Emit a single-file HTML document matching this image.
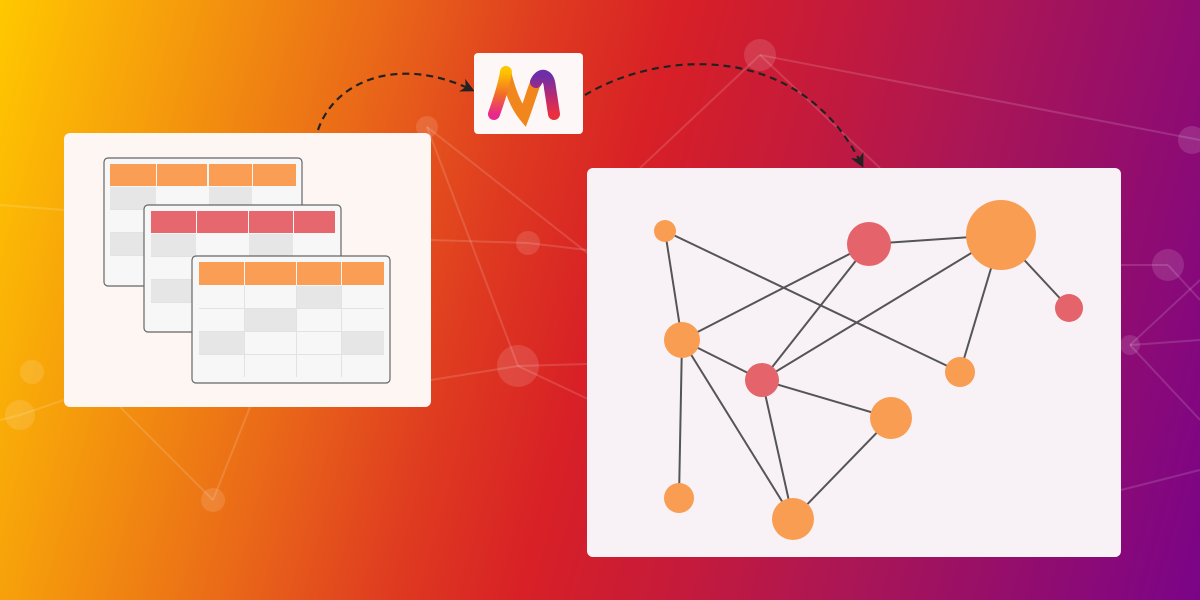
<!DOCTYPE html>
<html><head><meta charset="utf-8"><style>
html,body{margin:0;padding:0;width:1200px;height:600px;overflow:hidden}
body{background:linear-gradient(105deg,#ffc800 0%,#f59a0c 14%,#ea6a18 28%,#df3c20 40%,#d82026 50%,#c41a3c 62%,#aa1656 74%,#900c70 88%,#7a0488 100%)}
</style></head><body>
<svg width="1200" height="600" viewBox="0 0 1200 600" xmlns="http://www.w3.org/2000/svg" style="position:absolute;left:0;top:0">
<defs>
<marker id="ah" markerWidth="14" markerHeight="14" refX="11" refY="7" orient="auto" markerUnits="userSpaceOnUse"><path d="M0,0 L14,7 L0,14 L4,7 Z" fill="#222"/></marker>
<linearGradient id="mg1" x1="0" y1="0" x2="0" y2="1"><stop offset="0" stop-color="#ffc400"/><stop offset="0.55" stop-color="#f26a2a"/><stop offset="1" stop-color="#e8288a"/></linearGradient>
<linearGradient id="mg2" x1="0" y1="0" x2="0" y2="1"><stop offset="0" stop-color="#6e2ea8"/><stop offset="0.6" stop-color="#c22a6a"/><stop offset="1" stop-color="#ea3040"/></linearGradient>
<linearGradient id="mg3" x1="0" y1="0" x2="0" y2="1"><stop offset="0" stop-color="#f8b010"/><stop offset="1" stop-color="#ee7a1c"/></linearGradient>
</defs>
<g stroke="rgba(255,255,255,0.14)" stroke-width="2" fill="none">
<line x1="427" y1="127" x2="518" y2="366"/><line x1="427" y1="127" x2="590" y2="255"/>
<line x1="760" y1="55" x2="1200" y2="140"/><line x1="760" y1="55" x2="640" y2="168"/><line x1="760" y1="55" x2="880" y2="168"/>
<line x1="518" y1="366" x2="431" y2="380"/><line x1="518" y1="366" x2="590" y2="400"/><line x1="518" y1="366" x2="587" y2="364"/>
<line x1="528" y1="243" x2="431" y2="240"/><line x1="528" y1="243" x2="587" y2="250"/>
<line x1="20" y1="415" x2="64" y2="400"/><line x1="20" y1="415" x2="0" y2="420"/>
<line x1="213" y1="500" x2="250" y2="407"/><line x1="213" y1="500" x2="120" y2="407"/>
<line x1="1168" y1="265" x2="1121" y2="265"/><line x1="1168" y1="265" x2="1200" y2="300"/>
<line x1="1130" y1="345" x2="1200" y2="340"/><line x1="1130" y1="345" x2="1200" y2="280"/><line x1="1130" y1="345" x2="1200" y2="420"/>
<line x1="1121" y1="490" x2="1200" y2="470"/><line x1="0" y1="205" x2="64" y2="210"/>
</g>
<g fill="rgba(255,255,255,0.13)">
<circle cx="427" cy="127" r="11"/><circle cx="760" cy="55" r="16"/><circle cx="518" cy="366" r="21"/><circle cx="528" cy="243" r="12"/>
<circle cx="20" cy="415" r="15"/><circle cx="32" cy="372" r="12"/><circle cx="213" cy="500" r="12"/><circle cx="1168" cy="265" r="16"/><circle cx="1130" cy="345" r="10"/><circle cx="1192" cy="140" r="14"/>
</g>
<path d="M318,130 C335,80 400,55 472,90" stroke="#222" stroke-width="2.2" fill="none" stroke-dasharray="7,5" marker-end="url(#ah)"/>
<path d="M585,95 C660,50 800,40 862,165" stroke="#222" stroke-width="2.2" fill="none" stroke-dasharray="7,5" marker-end="url(#ah)"/>
<rect x="64" y="133" width="367" height="274" rx="6" fill="#fdf6f3"/>
<g>
<rect x="104" y="158" width="198" height="128" rx="4" fill="#f7f7f7" stroke="#666" stroke-width="1.2"/>
<g fill="#fa9e55"><rect x="110" y="164" width="46" height="22"/><rect x="157" y="164" width="50" height="22"/><rect x="209" y="164" width="43" height="22"/><rect x="253" y="164" width="43" height="22"/></g>
<g fill="#e6e6e6"><rect x="110" y="187" width="46" height="22"/><rect x="209" y="187" width="43" height="22"/><rect x="110" y="233" width="46" height="22"/></g>
<g stroke="#e2e2e2" stroke-width="1"><line x1="110" y1="209.5" x2="296" y2="209.5"/><line x1="110" y1="232.5" x2="296" y2="232.5"/><line x1="110" y1="255.5" x2="296" y2="255.5"/></g>
</g>
<g>
<rect x="144" y="205" width="197" height="127" rx="4" fill="#f7f7f7" stroke="#666" stroke-width="1.2"/>
<g fill="#e7676e"><rect x="151" y="211" width="45" height="22"/><rect x="197" y="211" width="51" height="22"/><rect x="249" y="211" width="44" height="22"/><rect x="294" y="211" width="41" height="22"/></g>
<g fill="#e6e6e6"><rect x="151" y="234" width="45" height="22"/><rect x="249" y="234" width="44" height="22"/><rect x="151" y="280" width="45" height="22"/></g>
<g stroke="#e2e2e2" stroke-width="1"><line x1="151" y1="256.5" x2="335" y2="256.5"/><line x1="151" y1="279.5" x2="335" y2="279.5"/><line x1="151" y1="302.5" x2="335" y2="302.5"/></g>
</g>
<g>
<rect x="192" y="256" width="198" height="127" rx="4" fill="#f7f7f7" stroke="#666" stroke-width="1.2"/>
<g fill="#fa9e55"><rect x="199" y="262" width="45" height="23"/><rect x="245" y="262" width="51" height="23"/><rect x="297" y="262" width="44" height="23"/><rect x="342" y="262" width="42" height="23"/></g>
<g fill="#e6e6e6"><rect x="297" y="286" width="44" height="22"/><rect x="245" y="309" width="51" height="22"/><rect x="199" y="332" width="45" height="22"/><rect x="342" y="332" width="42" height="22"/></g>
<g stroke="#e2e2e2" stroke-width="1"><line x1="244.5" y1="285" x2="244.5" y2="377"/><line x1="296.5" y1="285" x2="296.5" y2="377"/><line x1="341.5" y1="285" x2="341.5" y2="377"/>
<line x1="199" y1="308.5" x2="384" y2="308.5"/><line x1="199" y1="331.5" x2="384" y2="331.5"/><line x1="199" y1="354.5" x2="384" y2="354.5"/></g>
</g>
<rect x="474" y="53" width="109" height="81" rx="4" fill="#fdf7f7"/>
<path d="M506,74 C510,90 515,105 524,116 C530,100 533,88 536,82" stroke="#f0861c" stroke-width="11" fill="none" stroke-linecap="round"/>
<path d="M536,82 C541,72 549,74 550,88 C552,100 553,108 554,114" stroke="url(#mg2)" stroke-width="12" fill="none" stroke-linecap="round"/>
<path d="M506,72 C504,85 499,100 494,114" stroke="url(#mg1)" stroke-width="12" fill="none" stroke-linecap="round"/>
<rect x="587" y="168" width="534" height="389" rx="6" fill="#f8f2f6"/>
<g stroke="#555" stroke-width="2">
<line x1="665" y1="231" x2="682" y2="340"/><line x1="665" y1="231" x2="960" y2="372"/>
<line x1="869" y1="244" x2="1001" y2="235"/><line x1="869" y1="244" x2="682" y2="340"/><line x1="869" y1="244" x2="762" y2="380"/>
<line x1="1001" y1="235" x2="1069" y2="308"/><line x1="1001" y1="235" x2="960" y2="372"/><line x1="1001" y1="235" x2="762" y2="380"/>
<line x1="682" y1="340" x2="762" y2="380"/><line x1="682" y1="340" x2="679" y2="498"/><line x1="682" y1="340" x2="793" y2="519"/>
<line x1="762" y1="380" x2="891" y2="418"/><line x1="762" y1="380" x2="793" y2="519"/><line x1="891" y1="418" x2="793" y2="519"/>
</g>
<g fill="#f99d52">
<circle cx="665" cy="231" r="11"/><circle cx="1001" cy="235" r="35"/><circle cx="682" cy="340" r="18"/><circle cx="960" cy="372" r="15"/><circle cx="891" cy="418" r="21"/><circle cx="679" cy="498" r="15"/><circle cx="793" cy="519" r="21"/>
</g>
<g fill="#e5636b">
<circle cx="869" cy="244" r="22"/><circle cx="1069" cy="308" r="14"/><circle cx="762" cy="380" r="17"/>
</g>
</svg>
</body></html>
